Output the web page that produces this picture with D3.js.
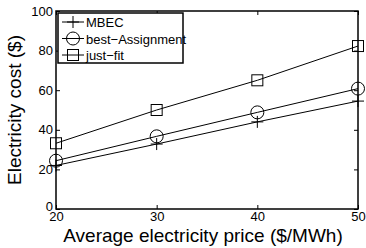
<!DOCTYPE html>
<html>
<head>
<meta charset="utf-8">
<script src="https://cdn.jsdelivr.net/npm/d3@7"></script>
<style>
body { margin: 0; background: #fff; }
text { font-family: "Liberation Sans", Arial, sans-serif; fill: #000; }
</style>
</head>
<body>
<div id="chart"></div>
<script>
var prices = [20, 30, 40, 50];
var mbec = [22, 32.8, 44, 54.5];
var bestAssign = [24.4, 36.7, 48.8, 60.8];
var justFit = [33.2, 50, 65, 82.3];
var xTicks = [20, 30, 40, 50];
var yTicks = [0, 20, 40, 60, 80, 100];
var names = ["MBEC", "best\u2212Assignment", "just\u2212fit"];

var margin = {top: 11, right: 8, bottom: 39, left: 56},
    width = 366 - margin.left - margin.right,
    height = 248 - margin.top - margin.bottom;

var svg = d3.select("#chart").append("svg")
    .attr("width", 366)
    .attr("height", 248)
  .append("g")
    .attr("transform", "translate(" + margin.left + "," + margin.top + ")");

var x = d3.scaleLinear().domain([20, 50]).range([0, width]);
var y = d3.scaleLinear().domain([0, 100]).range([height, 0]);

// inward ticks, matlab style
svg.append("g")
    .attr("transform", "translate(0," + height + ")")
    .call(d3.axisBottom(x).tickValues(xTicks).tickSizeInner(-4).tickSizeOuter(0).tickPadding(3))
    .call(function(g) { g.select(".domain").remove(); })
    .selectAll("text").style("font-size", "13px");
svg.append("g")
    .call(d3.axisTop(x).tickValues(xTicks).tickSizeInner(-4).tickSizeOuter(0).tickFormat(""))
    .call(function(g) { g.select(".domain").remove(); });
svg.append("g")
    .call(d3.axisLeft(y).tickValues(yTicks).tickSizeInner(-4).tickSizeOuter(0).tickPadding(3))
    .call(function(g) { g.select(".domain").remove(); })
    .selectAll("text")
    .style("font-size", "13px")
    .attr("dy", function(d) { return d == 0 ? "0.1em" : "0.32em"; });
svg.append("g")
    .attr("transform", "translate(" + width + ",0)")
    .call(d3.axisRight(y).tickValues(yTicks).tickSizeInner(-4).tickSizeOuter(0).tickFormat(""))
    .call(function(g) { g.select(".domain").remove(); });

svg.append("rect")
    .attr("width", width).attr("height", height)
    .attr("fill", "none").attr("stroke", "#000").attr("stroke-width", 1.5);

var series = [mbec, bestAssign, justFit];
var line = d3.line()
    .x(function(d, i) { return x(prices[i]); })
    .y(function(d) { return y(d); });

function marker(sel, k) {
  if (k == 0) {
    sel.append("path").attr("d", "M-6,0H6M0,-6V6");
  } else if (k == 1) {
    sel.append("circle").attr("r", 6.5);
  } else {
    sel.append("rect").attr("x", -5.5).attr("y", -5.5).attr("width", 11).attr("height", 11);
  }
}

series.forEach(function(s, k) {
  svg.append("path")
      .datum(s)
      .attr("d", line)
      .attr("fill", "none")
      .attr("stroke", "#000")
      .attr("stroke-width", 1);
  s.forEach(function(v, i) {
    var m = svg.append("g")
        .attr("transform", "translate(" + x(prices[i]) + "," + y(v) + ")")
        .attr("fill", "none").attr("stroke", "#000").attr("stroke-width", 1);
    marker(m, k);
  });
});

// legend
var lg = svg.append("g").attr("transform", "translate(2,2)");
lg.append("rect")
    .attr("width", 125).attr("height", 50)
    .attr("fill", "#fff").attr("stroke", "#000").attr("stroke-width", 1.5);
names.forEach(function(n, k) {
  var yy = 9 + k * 16.5;
  lg.append("path")
      .attr("d", "M4," + yy + "H26")
      .attr("stroke", "#000").attr("fill", "none");
  var m = lg.append("g")
      .attr("transform", "translate(15," + yy + ")")
      .attr("fill", "none").attr("stroke", "#000");
  marker(m, k);
  lg.append("text")
      .attr("x", 28).attr("y", yy + 5)
      .style("font-size", "13px")
      .text(n);
});

svg.append("text")
    .attr("x", width / 2 - 4)
    .attr("y", height + 32.5)
    .attr("text-anchor", "middle")
    .style("font-size", "19px")
    .text("Average electricity price ($/MWh)");

svg.append("text")
    .attr("transform", "translate(-35," + (height / 2) + ") rotate(-90)")
    .attr("text-anchor", "middle")
    .style("font-size", "19px")
    .text("Electricity cost ($)");
</script>
</body>
</html>
